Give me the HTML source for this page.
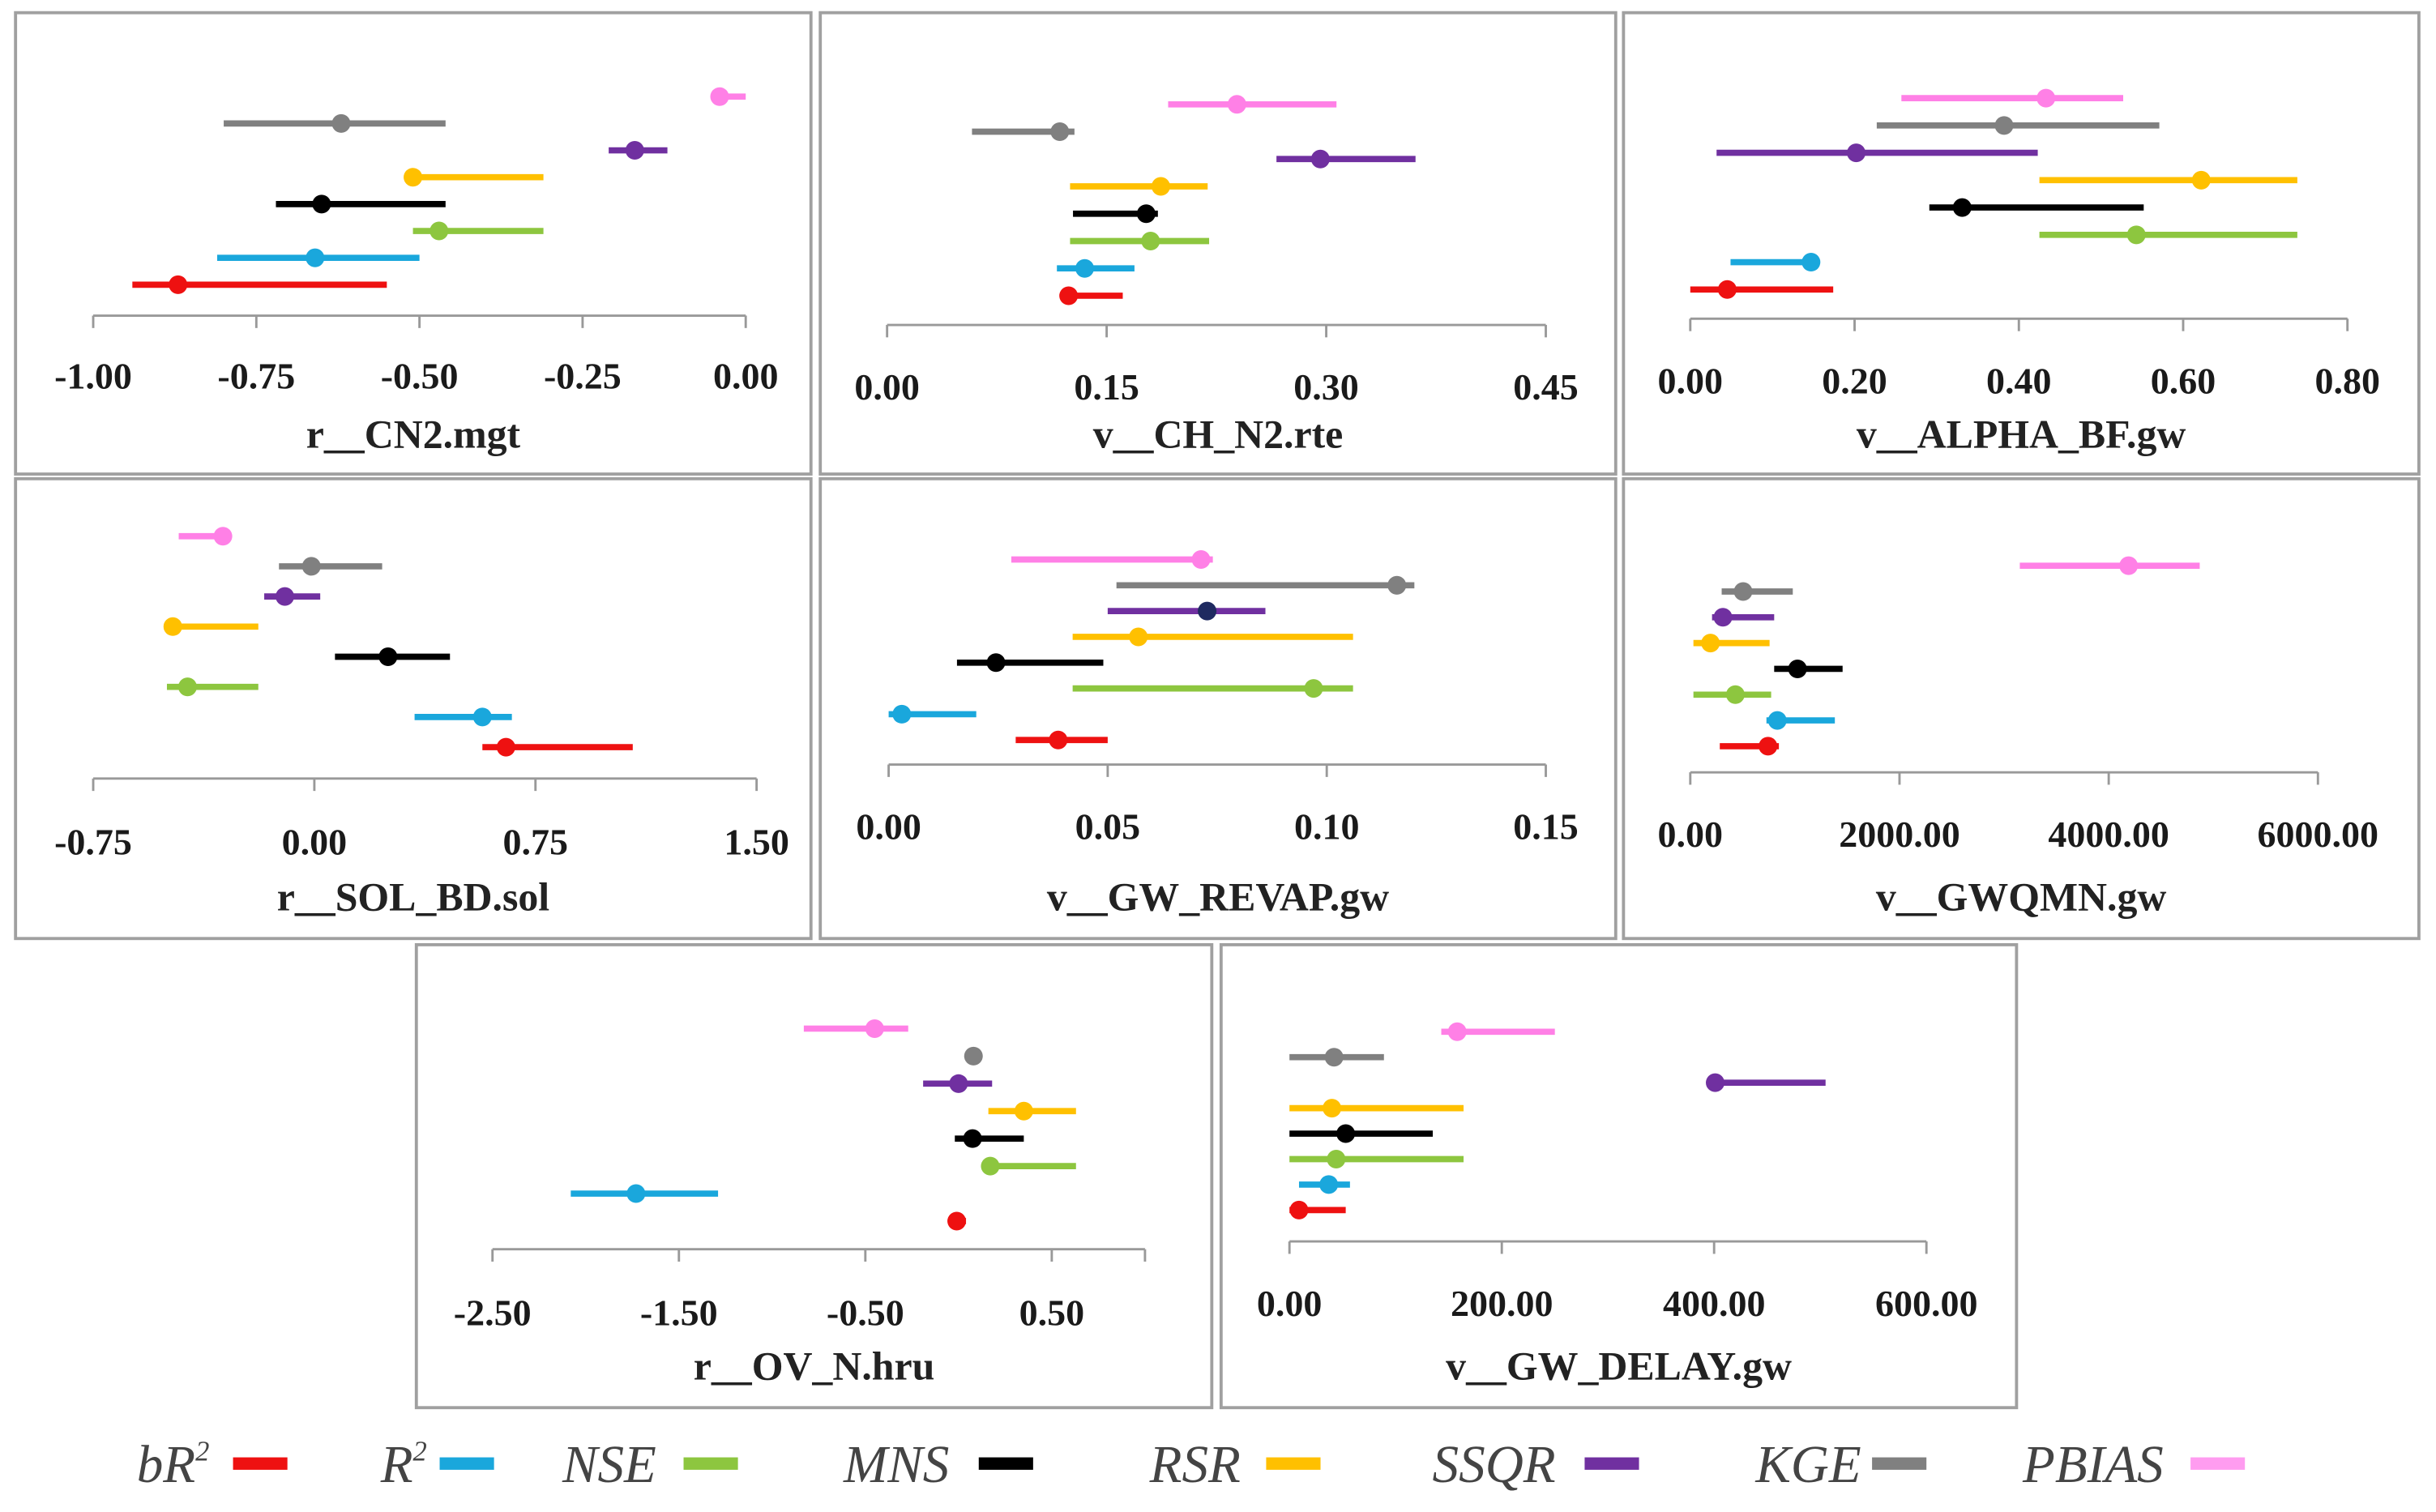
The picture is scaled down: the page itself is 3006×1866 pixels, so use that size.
<!DOCTYPE html>
<html><head><meta charset="utf-8"><style>
html,body{margin:0;padding:0;background:#fff}
svg{display:block}
text{font-family:"Liberation Serif",serif}
</style></head><body>
<svg id="chart" width="3006" height="1866" viewBox="0 0 1568 973" xmlns="http://www.w3.org/2000/svg">
<rect x="0" y="0" width="1568" height="973" fill="#fff"/>
<g id="panels"></g>
<g id="legend"></g>
</svg>
<script>
// Series order top-to-bottom
const seriesNames = ["PBIAS","KGE","SSQR","RSR","MNS","NSE","R2","bR2"];
const seriesColors = ["#ff80e6","#808080","#7030a0","#ffc000","#000000","#8dc63f","#1aa7dc","#ee1111"];

// Panel 1: r__CN2.mgt  (point, low, high)
const p1Point = [-0.04,-0.62,-0.17,-0.51,-0.65,-0.47,-0.66,-0.87];
const p1Low   = [-0.05,-0.80,-0.21,-0.51,-0.72,-0.51,-0.81,-0.94];
const p1High  = [0.00,-0.46,-0.12,-0.31,-0.46,-0.31,-0.50,-0.55];
const p1Ticks = ["-1.00","-0.75","-0.50","-0.25","0.00"];
// Panel 2: v__CH_N2.rte
const p2Point = [0.239,0.118,0.296,0.187,0.177,0.180,0.135,0.124];
const p2Low   = [0.192,0.058,0.266,0.125,0.127,0.125,0.116,0.119];
const p2High  = [0.307,0.128,0.361,0.219,0.185,0.220,0.169,0.161];
const p2Ticks = ["0.00","0.15","0.30","0.45"];
// Panel 3: v__ALPHA_BF.gw
const p3Point = [0.433,0.382,0.202,0.622,0.331,0.543,0.147,0.045];
const p3Low   = [0.257,0.227,0.032,0.425,0.291,0.425,0.049,0.000];
const p3High  = [0.527,0.571,0.423,0.739,0.552,0.739,0.157,0.174];
const p3Ticks = ["0.00","0.20","0.40","0.60","0.80"];
// Panel 4: r__SOL_BD.sol
const p4Point = [-0.31,-0.01,-0.10,-0.48,0.25,-0.43,0.57,0.65];
const p4Low   = [-0.46,-0.12,-0.17,-0.51,0.07,-0.50,0.34,0.57];
const p4High  = [-0.29,0.23,0.02,-0.19,0.46,-0.19,0.67,1.08];
const p4Ticks = ["-0.75","0.00","0.75","1.50"];
// Panel 5: v__GW_REVAP.gw
const p5Point = [0.0713,0.116,0.0727,0.057,0.0245,0.097,0.003,0.0387];
const p5Low   = [0.028,0.052,0.050,0.042,0.0156,0.042,0.000,0.029];
const p5High  = [0.074,0.120,0.086,0.106,0.049,0.106,0.020,0.050];
const p5Ticks = ["0.00","0.05","0.10","0.15"];
// Panel 6: v__GWQMN.gw
const p6Point = [4190,505,312,193,1025,431,832,743];
const p6Low   = [3150,300,208,30,802,30,728,282];
const p6High  = [4870,980,802,758,1456,773,1382,847];
const p6Ticks = ["0.00","2000.00","4000.00","6000.00"];
// Panel 7: r__OV_N.hru
const p7Point = [-0.45,0.08,0.00,0.35,0.075,0.17,-1.73,-0.01];
const p7Low   = [-0.83,0.05,-0.19,0.16,-0.02,0.17,-2.08,-0.05];
const p7High  = [-0.27,0.10,0.18,0.63,0.35,0.63,-1.29,0.04];
const p7Ticks = ["-2.50","-1.50","-0.50","0.50"];
// Panel 8: v__GW_DELAY.gw
const p8Point = [158,42,401,40,53,44,37,9];
const p8Low   = [143,0,401,0,0,0,9,0];
const p8High  = [250,89,505,164,135,164,57,53];
const p8Ticks = ["0.00","200.00","400.00","600.00"];

const NS="http://www.w3.org/2000/svg";
function mk(tag,attrs,parent){const e=document.createElementNS(NS,tag);for(const k in attrs)e.setAttribute(k,attrs[k]);parent.appendChild(e);return e;}

const panels = [
 {title:"r__CN2.mgt",box:[10,8,512,297],axY:203,x0:60,x1:480,d0:-1,d1:0,y0:62,dy:17.3,pt:p1Point,lo:p1Low,hi:p1High,ticks:p1Ticks,tickY:250,titleY:288},
 {title:"v__CH_N2.rte",box:[528,8,512,297],axY:209,x0:571,x1:995,d0:0,d1:0.45,y0:67,dy:17.6,pt:p2Point,lo:p2Low,hi:p2High,ticks:p2Ticks,tickY:257,titleY:288},
 {title:"v__ALPHA_BF.gw",box:[1045,8,512,297],axY:205,x0:1088,x1:1511,d0:0,d1:0.8,y0:63,dy:17.6,pt:p3Point,lo:p3Low,hi:p3High,ticks:p3Ticks,tickY:253,titleY:288},
 {title:"r__SOL_BD.sol",box:[10,308,512,296],axY:501,x0:60,x1:487,d0:-0.75,d1:1.5,y0:345,dy:19.4,pt:p4Point,lo:p4Low,hi:p4High,ticks:p4Ticks,tickY:550,titleY:586},
 {title:"v__GW_REVAP.gw",box:[528,308,512,296],axY:492,x0:572,x1:995,d0:0,d1:0.15,y0:360,dy:16.6,pt:p5Point,lo:p5Low,hi:p5High,ticks:p5Ticks,tickY:540,titleY:586},
 {title:"v__GWQMN.gw",box:[1045,308,512,296],axY:497,x0:1088,x1:1492,d0:0,d1:6000,y0:364,dy:16.6,pt:p6Point,lo:p6Low,hi:p6High,ticks:p6Ticks,tickY:545,titleY:586},
 {title:"r__OV_N.hru",box:[268,608,512,298],axY:804,x0:317,x1:677,d0:-2.5,d1:0.5,xEnd:737,y0:662,dy:17.7,pt:p7Point,lo:p7Low,hi:p7High,ticks:p7Ticks,tickY:853,titleY:888},
 {title:"v__GW_DELAY.gw",box:[786,608,512,298],axY:799,x0:830,x1:1240,d0:0,d1:600,y0:664,dy:16.4,pt:p8Point,lo:p8Low,hi:p8High,ticks:p8Ticks,tickY:847,titleY:888}
];

const root=document.getElementById('panels');
panels.forEach((p,pi)=>{
  const g=mk('g',{},root);
  
  
  const b=mk('rect',{x:p.box[0],y:p.box[1],width:p.box[2],height:p.box[3],fill:'none',stroke:'#a0a0a0','stroke-width':2},g);
  
  
  const sx=v=>p.x0+(v-p.d0)/(p.d1-p.d0)*(p.x1-p.x0);
  const xEnd=p.xEnd||p.x1;
  const ax=mk('line',{x1:p.x0,x2:xEnd,y1:p.axY,y2:p.axY,stroke:'#999','stroke-width':1.5},g);
  
  
  const n=p.ticks.length;
  p.ticks.forEach((t,i)=>{
    const v=p.d0+(p.d1-p.d0)*i/(n-1);
    const x=sx(v);
    const tk=mk('line',{x1:x,x2:x,y1:p.axY,y2:p.axY+8,stroke:'#999','stroke-width':1.5},g);
    
    
    const tl=mk('text',{x:x,y:p.tickY,'text-anchor':'middle','font-size':24,'font-weight':'bold',fill:'#1a1a1a'},g);
    tl.textContent=t;
    
    
  });
  if(p.xEnd){const tk=mk('line',{x1:xEnd,x2:xEnd,y1:p.axY,y2:p.axY+8,stroke:'#999','stroke-width':1.5},g);
    
    }
  const tt=mk('text',{x:p.box[0]+p.box[2]/2,y:p.titleY,'text-anchor':'middle','font-size':26,'font-weight':'bold',fill:'#222'},g);
  tt.textContent=p.title;
  
  
  seriesNames.forEach((s,i)=>{
    const y=p.y0+i*p.dy;
    const ln=mk('line',{x1:sx(p.lo[i]),x2:sx(p.hi[i]),y1:y,y2:y,stroke:seriesColors[i],'stroke-width':4},g);
    
    
    const c=mk('circle',{cx:sx(p.pt[i]),cy:y,r:6,fill:(pi===4&&s==='SSQR')?'#1f2a60':seriesColors[i]},g);
    
    
  });
});

// Legend
const legendLabels=["bR","R","NSE","MNS","RSR","SSQR","KGE","PBIAS"];
const legendColors=["#ee1111","#1aa7dc","#8dc63f","#000000","#ffc000","#7030a0","#808080","#ff9cf0"];
const legX=[88,245,362,543,740,922,1130,1302];
const legSw=[150,283,440,630,815,1020,1205,1410];
const lg=document.getElementById('legend');
legendLabels.forEach((l,i)=>{
  const g=mk('g',{},lg);
  
  
  const t=mk('text',{x:legX[i],y:954,'font-size':34,'font-style':'italic',fill:'#444'},g);
  t.textContent=l;
  if(i<2){const sup=mk('tspan',{'font-size':18,dy:-14},t);sup.textContent='2';}
  
  
  const r=mk('rect',{x:legSw[i],y:938,width:35,height:8,fill:legendColors[i]},g);
  
  
});
</script>
</body></html>
